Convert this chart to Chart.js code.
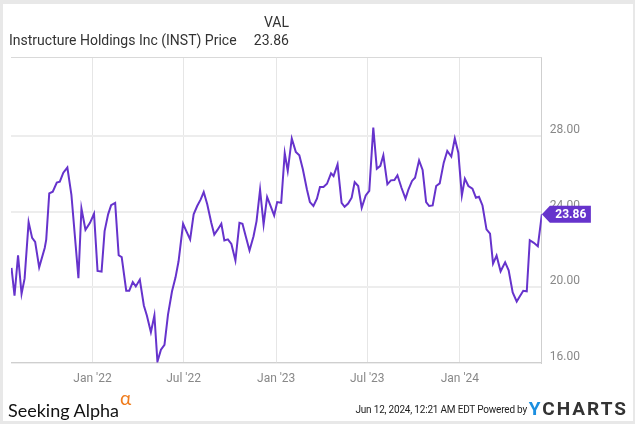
<!DOCTYPE html>
<html>
<head>
<meta charset="utf-8">
<script src="https://cdn.jsdelivr.net/npm/chart.js@4"></script>
<style>
  body { margin: 0; background: #fff; }
  #frame {
    position: relative; width: 635px; height: 424px; box-sizing: border-box;
    border-style: solid; border-color: #e8e8e8; border-width: 4px 2px 3px 3px;
    background: #fff; overflow: hidden; font-family: Roboto, sans-serif;
  }
  #chartBox { position: absolute; left: -3px; top: -4px; width: 635px; height: 424px; }
  .hdr { position: absolute; font-size: 14px; color: #333; white-space: nowrap; }
  #name { left: 6px; top: 28px; }
  #valHead { right: 344px; top: 10px; }
  #valNum { right: 344px; top: 28px; }
  #sa { position: absolute; left: 5px; top: 387px; font-family: Lato, sans-serif; font-size: 18px; color: #111; }
  #sa sup { color: #f07c1c; font-size: 19px; position: relative; top: -5px; margin-left: 1px; }
  #stamp { position: absolute; right: 106px; top: 400px; font-size: 10px; letter-spacing: -0.2px; color: #222; white-space: nowrap; }
  #yc { position: absolute; right: 5px; top: 393px; font-size: 19px; font-weight: bold; color: #333; letter-spacing: 2px; }
  #yc span { color: #1b8fe0; }
</style>
</head>
<body>
<div id="frame">
  <div id="chartBox"><canvas id="myChart" width="635" height="424"></canvas></div>
  <div class="hdr" id="name">Instructure Holdings Inc (INST) Price</div>
  <div class="hdr" id="valHead">VAL</div>
  <div class="hdr" id="valNum">23.86</div>
  <div id="sa">Seeking Alpha<sup>&alpha;</sup></div>
  <div id="stamp">Jun 12, 2024, 12:21 AM EDT Powered by</div>
  <div id="yc"><span>Y</span>CHARTS</div>
</div>
<script>
// days counted from 2022-01-01
const days = [
  -161, -155, -148, -141, -135, -127, -120, -114, -106, -95, -92, -86, -79, -71, -65, -58, -50, -42,
  -28, -22, -14, -5, 3, 10, 18, 24, 31, 37, 45, 52, 58, 67, 73, 80, 86, 94, 102, 108, 116, 123,
  129, 136, 143, 150, 158, 165, 171, 180, 186, 194, 201, 208, 215, 221, 228, 236, 242, 249, 256,
  262, 269, 276, 284, 292, 298, 305, 312, 320, 326, 333, 340, 347, 354, 361, 367, 375, 382, 388,
  396, 404, 411, 418, 426, 432, 439, 446, 452, 459, 466, 474, 479, 487, 495, 501, 508, 515, 521,
  528, 535, 543, 550, 558, 565, 572, 578, 586, 593, 600, 606, 614, 622, 628, 635, 641, 649, 656,
  663, 669, 676, 683, 690, 698, 705, 713, 720, 727, 734, 740, 747, 755, 762, 768, 775, 783, 790,
  796, 803, 811, 820, 827, 835, 843, 849, 856, 863, 869, 877, 885, 893
];
const prices = [
  21.02, 19.55, 21.69, 19.65, 20.45, 23.45, 22.61, 22.40, 21.05, 22.08, 22.52, 24.97, 25.06, 25.54, 25.59, 26.07, 26.34, 24.91,
  20.48, 24.17, 23.04, 23.41, 23.89, 20.86, 20.82, 22.97, 23.86, 24.35, 24.47, 21.69, 21.59, 19.81, 19.81, 20.27, 20.04, 20.40, 19.03, 18.50, 17.61, 18.50,
  16.05, 16.68, 16.94, 18.54, 19.78, 20.52, 21.37, 23.36, 23.00, 22.53, 23.86, 24.30, 24.65, 25.04, 24.39, 23.41, 22.79, 23.06, 23.36,
  22.47, 22.53, 22.29, 21.41, 23.41, 23.36, 22.65, 21.94, 22.70, 23.50, 25.17, 23.32, 24.78, 24.30, 23.80, 24.51, 24.47, 27.10, 26.16,
  27.88, 27.17, 26.99, 26.25, 25.19, 24.51, 24.30, 24.69, 25.31, 25.31, 25.48, 26.03, 25.89, 26.51, 24.47, 24.26, 24.43, 24.74, 25.57,
  25.36, 24.21, 24.86, 25.10, 28.46, 26.28, 26.43, 26.99, 25.45, 25.66, 25.68, 25.93, 25.27, 24.69, 25.19, 25.63, 25.80, 26.72, 26.21,
  24.51, 24.30, 24.33, 25.36, 25.50, 26.60, 27.22, 26.92, 27.88, 27.13, 24.86, 25.75, 25.36, 25.22, 24.74, 24.79, 24.33, 23.06, 22.84,
  21.25, 21.67, 20.84, 21.32, 20.89, 19.72, 19.24, 19.51, 19.81, 19.78, 22.49, 22.35, 22.17, 23.86
];
const xTickDays = [0, 181, 365, 546, 730];
const xTickLabels = ["Jan '22", "Jul '22", "Jan '23", "Jul '23", "Jan '24"];
const yTicks = [16, 20, 24, 28];

const lineColor = "#6633cc";

const lastFlag = {
  id: "lastFlag",
  afterDatasetsDraw(chart) {
    const { ctx, chartArea } = chart;
    const last = prices[prices.length - 1];
    const y = chart.scales.y.getPixelForValue(last);
    const x = chartArea.right;
    ctx.save();
    ctx.fillStyle = lineColor;
    ctx.beginPath();
    ctx.moveTo(x, y);
    ctx.lineTo(x + 8, y - 8.5);
    ctx.lineTo(x + 49, y - 8.5);
    ctx.lineTo(x + 49, y + 8.5);
    ctx.lineTo(x + 8, y + 8.5);
    ctx.closePath();
    ctx.fill();
    ctx.fillStyle = "#fff";
    ctx.font = "bold 12px Roboto";
    ctx.textAlign = "center";
    ctx.textBaseline = "middle";
    ctx.fillText(last.toFixed(2), x + 29, y + 0.5);
    // top border of plot
    ctx.strokeStyle = "#d9d9d9";
    ctx.lineWidth = 1;
    ctx.beginPath();
    ctx.moveTo(chartArea.left, chartArea.top + 0.5);
    ctx.lineTo(chartArea.right, chartArea.top + 0.5);
    ctx.stroke();
    ctx.restore();
  }
};

new Chart("myChart", {
  type: "line",
  data: {
    datasets: [
      {
        data: days.map((d, i) => ({ x: d, y: prices[i] })),
        borderColor: lineColor,
        borderWidth: 2,
        pointRadius: 0,
        tension: 0,
        fill: false,
      },
    ],
  },
  options: {
    responsive: false,
    animation: false,
    layout: { padding: { left: 11, top: 57, right: 47, bottom: 29 } },
    plugins: { legend: { display: false }, tooltip: { enabled: false } },
    scales: {
      x: {
        type: "linear",
        min: -162,
        max: 893,
        afterBuildTicks: axis => { axis.ticks = xTickDays.map(v => ({ value: v })); },
        ticks: {
          callback: v => xTickLabels[xTickDays.indexOf(v)],
          color: "#888",
          font: { family: "Roboto", size: 12 },
          padding: 9,
          maxRotation: 0,
        },
        grid: { color: "#e6e6e6", lineWidth: 1, drawTicks: false },
        border: { color: "#cfcfcf" },
      },
      y: {
        position: "right",
        min: 16,
        max: 32.2,
        afterBuildTicks: axis => { axis.ticks = yTicks.map(v => ({ value: v })); },
        ticks: {
          callback: v => v.toFixed(2),
          color: "#888",
          font: { family: "Roboto", size: 12 },
          padding: 8,
          labelOffset: -6,
        },
        grid: { color: "#ededed", lineWidth: 2, drawTicks: false },
        border: { color: "#cfcfcf" },
      },
    },
  },
  plugins: [lastFlag],
});
</script>
</body>
</html>
